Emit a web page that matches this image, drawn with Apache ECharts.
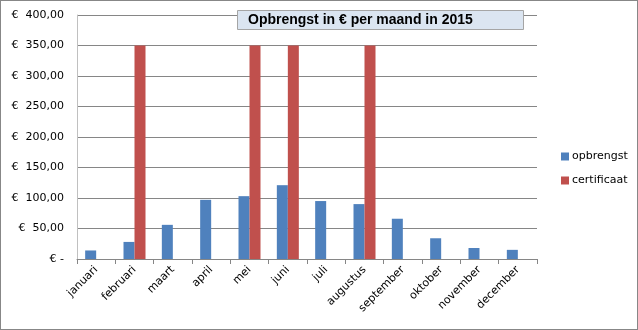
<!DOCTYPE html>
<html>
<head>
<meta charset="utf-8">
<script src="https://cdn.jsdelivr.net/npm/echarts@6/dist/echarts.min.js"></script>
<style>
html,body{margin:0;padding:0;background:#fff;}
#wrap{position:relative;width:638px;height:330px;}
#c{width:638px;height:330px;}
#frame{position:absolute;left:0;top:0;width:636px;height:328px;border:1px solid #878787;box-sizing:content-box;pointer-events:none;}
</style>
</head>
<body>
<div id="wrap"><div id="c"></div><div id="frame"></div></div>
<script>
const months = ['januari','februari','maart','april','mei','juni','juli','augustus','september','oktober','november','december'];
const opbrengst = [14, 28, 56, 97, 103, 121, 95, 90, 66, 34, 18, 15];
const certificaat = [null, 350, null, null, 350, 350, null, 350, null, null, null, null];
const seriesNames = ['opbrengst', 'certificaat'];
const titleText = 'Opbrengst in € per maand in 2015';

const chart = echarts.init(document.getElementById('c'), null, {renderer:'canvas'});
const font = 'Verdana, "DejaVu Sans", sans-serif';
chart.setOption({
  animation:false,
  backgroundColor:'#fff',
  title:{
    text:titleText,
    left:237, top:10,
    padding:[2,51,1,11],
    backgroundColor:'#dbe5f1',
    borderColor:'#a5a5a5', borderWidth:1,
    textStyle:{fontFamily:'"Liberation Sans", Arial, sans-serif', fontWeight:'bold', fontSize:14, color:'#000', lineHeight:17}
  },
  legend:{
    orient:'vertical',
    left:556, top:146,
    itemWidth:8, itemHeight:8, itemGap:13,
    icon:'rect',
    textStyle:{fontFamily:font, fontSize:11, color:'#000', padding:[0,0,0,-2]},
    data:seriesNames
  },
  grid:{left:77, right:101, top:15, bottom:71},
  xAxis:{
    type:'category',
    data:months,
    axisLine:{lineStyle:{color:'#868686'}},
    axisTick:{show:true, length:5, lineStyle:{color:'#868686'}},
    axisLabel:{rotate:45, fontFamily:font, fontSize:11, color:'#000', margin:9, interval:0}
  },
  yAxis:{
    type:'value', min:0, max:400, interval:50,
    axisLine:{show:true, lineStyle:{color:'#c0c0c0', width:1}},
    axisTick:{show:false},
    splitLine:{lineStyle:{color:'#868686'}},
    axisLabel:{fontFamily:font, fontSize:11, color:'#000', margin:13,
      formatter:function(v){ return v===0 ? '€ -' : '€  ' + v.toFixed(2).replace('.', ','); }}
  },
  series:[
    {name:seriesNames[0], type:'bar', data:opbrengst, barWidth:11, barGap:'0%', itemStyle:{color:'#4f81bd'}},
    {name:seriesNames[1], type:'bar', data:certificaat, barWidth:11, barGap:'0%', itemStyle:{color:'#c0504d'}}
  ]
});
</script>
</body>
</html>
